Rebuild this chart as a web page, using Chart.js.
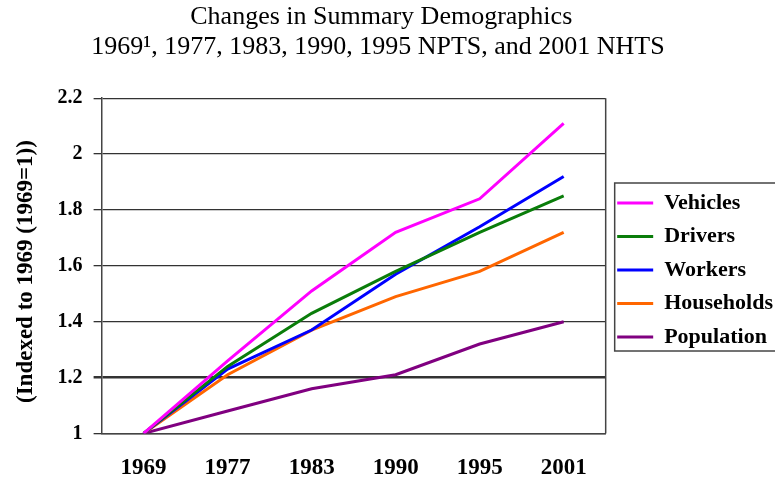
<!DOCTYPE html>
<html>
<head>
<meta charset="utf-8">
<script src="https://cdn.jsdelivr.net/npm/chart.js@4"></script>
<style>
  html, body { margin: 0; padding: 0; background: #fff; overflow: hidden; }
  #wrap { width: 825px; height: 481px; }
</style>
</head>
<body>
<div id="wrap"><canvas id="c"></canvas></div>
<script>
const years = ['1969', '1977', '1983', '1990', '1995', '2001'];
const vehicles = [1.0, 1.26, 1.51, 1.72, 1.84, 2.11];
const drivers = [1.0, 1.24, 1.43, 1.58, 1.72, 1.85];
const workers = [1.0, 1.23, 1.37, 1.57, 1.74, 1.92];
const households = [1.0, 1.21, 1.37, 1.49, 1.58, 1.72];
const population = [1.0, 1.08, 1.16, 1.21, 1.32, 1.40];

const serif = '"Liberation Serif", "Times New Roman", serif';
// trailing spaces nudge the centred texts a little, as in the original
const pad = n => '\u00a0'.repeat(n);

function line(label, data, color) {
  return { label, data, borderColor: color, backgroundColor: color, borderWidth: 3, pointRadius: 0, tension: 0 };
}

// right border of the plot and the box around the legend
const frame = {
  id: 'frame',
  afterDraw(chart) {
    const ctx = chart.ctx;
    const a = chart.chartArea;
    ctx.save();
    ctx.strokeStyle = '#444';
    ctx.lineWidth = 1.5;
    ctx.beginPath();
    ctx.moveTo(a.right, a.top);
    ctx.lineTo(a.right, a.bottom);
    ctx.stroke();
    const boxes = chart.legend.legendHitBoxes;
    if (boxes && boxes.length) {
      const first = boxes[0], last = boxes[boxes.length - 1];
      const top = first.top + first.height / 2 - 20;
      const bottom = last.top + last.height / 2 + 14;
      const left = a.right + 9;
      ctx.strokeRect(left, top, chart.width - left + 5, bottom - top);
    }
    ctx.restore();
  }
};

new Chart(document.getElementById('c'), {
  type: 'line',
  data: {
    labels: years,
    datasets: [
      line('Vehicles', vehicles, '#ff00ff'),
      line('Drivers', drivers, '#0a7d0a'),
      line('Workers', workers, '#0000ff'),
      line('Households', households, '#ff6600'),
      line('Population', population, '#800080')
    ]
  },
  options: {
    responsive: true,
    maintainAspectRatio: false,
    animation: false,
    layout: { padding: { left: 12, right: 42, top: 0, bottom: -22 } },
    plugins: {
      title: {
        display: true,
        text: ['Changes in Summary Demographics' + pad(5), '1969\u00b9, 1977, 1983, 1990, 1995 NPTS, and 2001 NHTS' + pad(6)],
        color: '#000',
        font: { family: serif, size: 26, weight: 'normal', lineHeight: 1.12 },
        padding: { top: 3, bottom: 37 }
      },
      legend: {
        position: 'right',
        title: { display: true, text: '', font: { size: 10 }, padding: { top: 25, bottom: 0 } },
        labels: {
          color: '#000',
          font: { family: serif, size: 22, weight: 'bold' },
          usePointStyle: true,
          pointStyle: 'line',
          pointStyleWidth: 36,
          padding: 11.5
        }
      },
      tooltip: { enabled: false }
    },
    scales: {
      x: {
        offset: true,
        grid: { display: false, drawTicks: false },
        border: { color: '#444', width: 1.5 },
        ticks: { color: '#000', font: { family: serif, size: 23, weight: 'bold' }, padding: 21 }
      },
      y: {
        min: 1,
        max: 2.2,
        ticks: {
          stepSize: 0.2,
          color: '#000',
          font: { family: serif, size: 20, weight: 'bold' },
          padding: 11,
          callback: v => Math.round(v * 10) / 10
        },
        grid: {
          color: '#333',
          lineWidth: ctx => (ctx.tick && Math.abs(ctx.tick.value - 1.2) < 1e-6 ? 2.5 : 1.3),
          tickLength: 8
        },
        border: { color: '#444', width: 1.5 },
        title: {
          display: true,
          text: '(Indexed to 1969 (1969=1))' + pad(2),
          color: '#000',
          font: { family: serif, size: 23, weight: 'bold' },
          padding: { top: 0, bottom: 7 }
        }
      }
    }
  },
  plugins: [frame]
});
</script>
</body>
</html>
